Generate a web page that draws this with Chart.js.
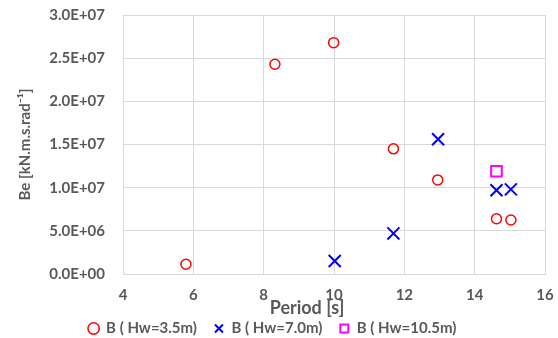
<!DOCTYPE html>
<html>
<head>
<meta charset="utf-8">
<script src="https://cdn.jsdelivr.net/npm/chart.js@4.4.1/dist/chart.umd.min.js"></script>
<style>
  body { margin: 0; background: #fff; }
  #wrap { width: 558px; height: 338px; }
</style>
</head>
<body>
<div id="wrap"><canvas id="chart" width="558" height="338"></canvas></div>
<script>
// values
const seriesNames = ["B ( Hw=3.5m)", "B ( Hw=7.0m)", "B ( Hw=10.5m)"];
const periodA = [5.79, 8.32, 9.99, 11.69, 12.95, 14.62, 15.03];
const beA = [1.13e6, 2.43e7, 2.68e7, 1.45e7, 1.09e7, 6.4e6, 6.25e6];
const periodB = [10.02, 11.69, 12.96, 14.62, 15.03];
const beB = [1.5e6, 4.7e6, 1.56e7, 9.7e6, 9.8e6];
const periodC = [14.62];
const beC = [1.19e7];
const xTicks = [4, 6, 8, 10, 12, 14, 16];
const yTicks = [0, 5e6, 1e7, 1.5e7, 2e7, 2.5e7, 3e7];

const gray = "#595959";
const font = "Lato, 'Liberation Sans', Arial, sans-serif";
const clear = "rgba(0,0,0,0)";

function toPoints(xs, ys) {
  return xs.map((x, i) => ({ x: x, y: ys[i] }));
}

// 3.0E+07 style labels
function sci(v) {
  const parts = Number(v).toExponential(1).split("e");
  const exp = parseInt(parts[1], 10);
  const sign = exp < 0 ? "-" : "+";
  return parts[0] + "E" + sign + String(Math.abs(exp)).padStart(2, "0");
}

// x axis title, sits a bit left of the plot centre like the original
const xTitlePlugin = {
  id: "xTitle",
  afterDraw(chart) {
    const ctx = chart.ctx;
    const area = chart.chartArea;
    ctx.save();
    ctx.font = "bold 18px " + font;
    ctx.fillStyle = gray;
    ctx.textAlign = "center";
    ctx.textBaseline = "middle";
    ctx.fillText("Period [s]", (area.left + area.right) / 2 - 27, area.bottom + 34);
    ctx.restore();
  }
};

const ctx = document.getElementById("chart").getContext("2d");
new Chart(ctx, {
  type: "scatter",
  data: {
    datasets: [
      {
        label: seriesNames[0],
        data: toPoints(periodA, beA),
        pointStyle: "circle",
        pointRadius: 5,
        pointBorderWidth: 1.5,
        borderColor: "#ff0000",
        backgroundColor: clear
      },
      {
        label: seriesNames[1],
        data: toPoints(periodB, beB),
        pointStyle: "crossRot",
        pointRadius: 8.5,
        pointBorderWidth: 2,
        borderColor: "#0000ff",
        backgroundColor: "#0000ff"
      },
      {
        label: seriesNames[2],
        data: toPoints(periodC, beC),
        pointStyle: "rect",
        pointRadius: 7.5,
        pointBorderWidth: 2,
        borderColor: "#ff00ff",
        backgroundColor: clear
      }
    ]
  },
  options: {
    responsive: false,
    animation: false,
    layout: { padding: { left: 0, right: 13, top: 15, bottom: -8 } },
    plugins: {
      tooltip: { enabled: false },
      legend: {
        position: "bottom",
        labels: {
          usePointStyle: true,
          boxWidth: 10,
          boxHeight: 8,
          padding: 17,
          color: gray,
          font: { family: font, size: 15, weight: "bold" }
        }
      }
    },
    scales: {
      x: {
        type: "linear",
        min: xTicks[0],
        max: xTicks[xTicks.length - 1],
        // invisible tick marks keep the labels off the axis without extra layout padding
        grid: { color: "#d9d9d9", drawTicks: true, tickLength: 12, tickColor: clear },
        border: { color: "#d9d9d9" },
        ticks: {
          stepSize: xTicks[1] - xTicks[0],
          autoSkip: false,
          maxRotation: 0,
          padding: 0,
          color: gray,
          font: { family: font, size: 15, weight: "bold" }
        }
      },
      y: {
        min: yTicks[0],
        max: yTicks[yTicks.length - 1],
        afterFit: s => { s.width = 123; },
        grid: { color: "#d9d9d9", drawTicks: true, tickLength: 18, tickColor: clear },
        border: { color: "#d9d9d9" },
        ticks: {
          stepSize: yTicks[1] - yTicks[0],
          padding: 0,
          color: gray,
          font: { family: font, size: 15, weight: "bold" },
          callback: v => sci(v)
        },
        title: {
          display: true,
          text: "Be [kN.m.s.rad\u207B\u00B9]",
          color: gray,
          font: { family: font, size: 15, weight: "bold" },
          padding: { top: 16, bottom: 0 }
        }
      }
    }
  },
  plugins: [xTitlePlugin]
});
</script>
</body>
</html>
